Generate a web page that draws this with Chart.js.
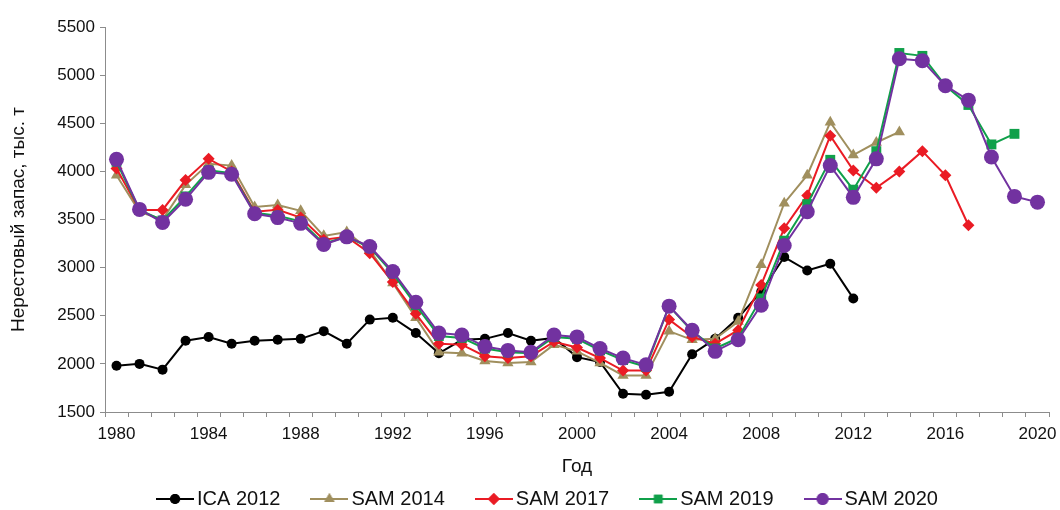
<!DOCTYPE html>
<html>
<head>
<meta charset="utf-8">
<script src="https://cdn.jsdelivr.net/npm/chart.js@4/dist/chart.umd.min.js"></script>
<style>
  body { margin: 0; background: #fff; }
  #wrap { width: 1060px; height: 510px; }
</style>
</head>
<body>
<div id="wrap"><canvas id="stockChart"></canvas></div>
<script>
// годы 1980..2020
const years = [];
for (let y = 1980; y <= 2020; y++) years.push(String(y));

const ica2012 = [1980, 2000, 1940, 2240, 2280, 2210, 2240, 2250, 2260, 2340,
  2210, 2460, 2480, 2320, 2110, 2250, 2260, 2320, 2240, 2270,
  2070, 2020, 1690, 1680, 1710, 2100, 2260, 2480, 2750, 3110,
  2970, 3040, 2680];

const sam2014 = [3960, 3580, 3500, 3860, 4080, 4060, 3630, 3650, 3590, 3330,
  3370, 3180, 2840, 2480, 2120, 2110, 2030, 2010, 2020, 2200,
  2130, 2010, 1880, 1880, 2340, 2250, 2260, 2440, 3030, 3670,
  3960, 4510, 4170, 4300, 4410];

const sam2017 = [4030, 3600, 3600, 3910, 4130, 4000, 3580, 3600, 3520, 3290,
  3320, 3150, 2850, 2520, 2210, 2200, 2080, 2060, 2080, 2230,
  2170, 2060, 1930, 1930, 2460, 2280, 2210, 2350, 2820, 3410,
  3750, 4370, 4010, 3830, 4000, 4210, 3960, 3440];

const sam2019 = [4100, 3600, 3490, 3740, 4010, 3980, 3570, 3540, 3480, 3250,
  3320, 3210, 2940, 2610, 2290, 2270, 2160, 2120, 2110, 2280,
  2260, 2140, 2040, 1970, 2600, 2340, 2160, 2270, 2680, 3280,
  3660, 4120, 3810, 4210, 5230, 5200, 4890, 4690, 4280, 4390];

const sam2020 = [4125, 3605, 3470, 3710, 3990, 3970, 3560, 3520, 3460, 3240,
  3320, 3220, 2960, 2640, 2320, 2300, 2180, 2140, 2120, 2300,
  2280, 2160, 2060, 1990, 2600, 2350, 2130, 2250, 2610, 3230,
  3580, 4060, 3730, 4130, 5170, 5150, 4890, 4740, 4150, 3740, 3680];

const FONT = '"Liberation Sans", Arial, sans-serif';

function series(label, data, color, style, radius, order) {
  return {
    label: label,
    data: data,
    borderColor: color,
    backgroundColor: color,
    borderWidth: 2,
    pointStyle: style,
    pointRadius: radius,
    pointHoverRadius: radius,
    pointBorderWidth: 0,
    tension: 0,
    order: order
  };
}

const datasets = [
  series('ICA 2012', ica2012, '#000000', 'circle', 5, 4),
  series('SAM 2014', sam2014, '#a08f5e', 'triangle', 6.5, 3),
  series('SAM 2017', sam2017, '#ea1b24', 'rectRot', 6, 2),
  series('SAM 2019', sam2019, '#10a04a', 'rect', 7, 1),
  series('SAM 2020', sam2020, '#7232a0', 'circle', 7.5, 0)
];

// значки легенды: линия с маркером посередине
function legendIcon(ds) {
  const c = document.createElement('canvas');
  c.width = 38; c.height = 16;
  const ctx = c.getContext('2d');
  ctx.strokeStyle = ds.borderColor;
  ctx.lineWidth = 2;
  ctx.beginPath();
  ctx.moveTo(0, 8); ctx.lineTo(38, 8);
  ctx.stroke();
  ctx.fillStyle = ds.backgroundColor;
  Chart.helpers.drawPoint(ctx, {
    pointStyle: ds.pointStyle,
    radius: Math.min(ds.pointRadius, 6),
    rotation: 0,
    borderWidth: 0
  }, 19, 8);
  ctx.fill();
  return c;
}
const icons = datasets.map(legendIcon);

const ctx = document.getElementById('stockChart').getContext('2d');
const chart = new Chart(ctx, {
  type: 'line',
  data: { labels: years, datasets: datasets },
  options: {
    responsive: true,
    maintainAspectRatio: false,
    animation: false,
    layout: { padding: { left: 52, right: 11, top: 27, bottom: -9 } },
    plugins: {
      tooltip: { enabled: false },
      legend: {
        position: 'bottom',
        labels: {
          usePointStyle: true,
          pointStyleWidth: 24,
          padding: 37,
          color: '#111',
          font: { family: FONT, size: 20 },
          sort: (a, b) => a.datasetIndex - b.datasetIndex,
          generateLabels: function (ch) {
            const items = Chart.defaults.plugins.legend.labels.generateLabels(ch);
            items.forEach(it => { it.pointStyle = icons[it.datasetIndex]; });
            return items;
          }
        }
      }
    },
    scales: {
      x: {
        type: 'category',
        offset: true,
        afterFit: s => { s.height = 40; s.paddingLeft = 0; s.paddingRight = 0; },
        grid: { offset: true, drawOnChartArea: false, tickLength: 5, color: '#8c8c8c' },
        border: { color: '#8c8c8c', width: 1 },
        ticks: {
          autoSkip: false,
          maxRotation: 0,
          padding: 7,
          color: '#111',
          font: { family: FONT, size: 17 },
          callback: function (v, i) { return i % 4 === 0 ? this.getLabelForValue(v) : ''; }
        },
        title: {
          display: true,
          text: 'Год',
          color: '#111',
          font: { family: FONT, size: 19 },
          padding: { top: 0, bottom: -26 }
        }
      },
      y: {
        min: 1500,
        max: 5500,
        afterFit: s => { s.width = 53; },
        grid: { drawOnChartArea: false, tickLength: 5, color: '#8c8c8c' },
        border: { color: '#8c8c8c', width: 1 },
        ticks: {
          stepSize: 500,
          padding: 5,
          color: '#111',
          font: { family: FONT, size: 17 },
          callback: v => String(v)
        },
        title: {
          display: true,
          text: 'Нерестовый запас, тыс. т',
          color: '#111',
          font: { family: FONT, size: 19 },
          padding: { top: -45, bottom: 0 }
        }
      }
    }
  }
});
</script>
</body>
</html>
